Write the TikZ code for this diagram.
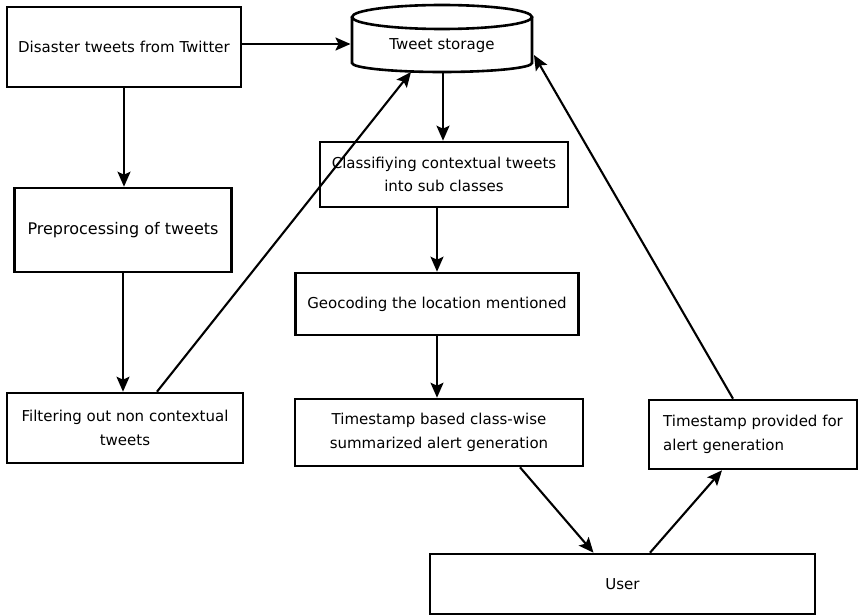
\documentclass[tikz,border=0pt]{standalone}
\usepackage{fontspec}
\setmainfont{DejaVu Sans}
\usetikzlibrary{arrows.meta}
\begin{document}
\begin{tikzpicture}[x=1pt,y=-1pt,
  box/.style={draw, line width=2.6pt, outer sep=1.3pt, inner sep=0pt, align=center,
              font=\fontsize{15}{23.5}\selectfont},
  conn/.style={line width=2.1pt, -{Stealth[length=15pt,width=13pt,inset=3pt]}},
  drum/.style={line width=2.6pt},
]
\useasboundingbox (0,0) rectangle (859,615);

% process boxes
\node[box, minimum width=234pt, minimum height=80pt] (src) at (124,47) {Disaster tweets from Twitter};
\node[box, minimum width=217pt, minimum height=84pt, font=\fontsize{16}{20}\selectfont] (prep) at (123,230) {Preprocessing of tweets};
\node[box, minimum width=236pt, minimum height=70pt] (filt) at (125,428) {Filtering out non contextual\\tweets};
\node[box, minimum width=248pt, minimum height=65pt] (cls) at (444,174.5) {Classifiying contextual tweets\\into sub classes};
\node[box, minimum width=283pt, minimum height=62pt] (geo) at (437,304) {Geocoding the location mentioned};
\node[box, minimum width=288pt, minimum height=67pt] (tsb) at (439,432.5) {Timestamp based class-wise\\summarized alert generation};
\node[box, minimum width=385pt, minimum height=60pt] (user) at (622.5,584) {User};
\node[box, minimum width=208pt, minimum height=69pt, align=left] (tsp) at (753,434.5) {Timestamp provided for\\alert generation};

% tweet storage drum
\node[font=\fontsize{15}{20}\selectfont, inner sep=0pt] (store) at (442,46) {Tweet storage};
\draw[drum] (442,17) ellipse [x radius=90pt, y radius=12pt];
\draw[drum] (352,17) -- (352,63) arc[start angle=180, end angle=360, x radius=90pt, y radius=9pt] -- (532,17);
\coordinate (st-w) at (350.5,44);
\coordinate (st-s) at (443,73);
\coordinate (st-sw) at (411,72);
\coordinate (st-e) at (534,55);

% connectors
\draw[conn] (src.east |- st-w) -- (st-w);
\draw[conn] (src.south) -- (src.south |- prep.north);
\draw[conn] (prep.south) -- (prep.south |- filt.north);
\draw[conn] ([xshift=32pt]filt.north) -- (st-sw);
\draw[conn] (st-s) -- (st-s |- cls.north);
\draw[conn] (geo.north |- cls.south) -- (geo.north);
\draw[conn] (geo.south) -- (geo.south |- tsb.north);
\draw[conn] ([xshift=81pt]tsb.south) -- ([xshift=-29pt]user.north);
\draw[conn] ([xshift=27.5pt]user.north) -- ([xshift=-31pt]tsp.south);
\draw[conn] ([xshift=-20pt]tsp.north) -- (st-e);
\end{tikzpicture}
\end{document}
